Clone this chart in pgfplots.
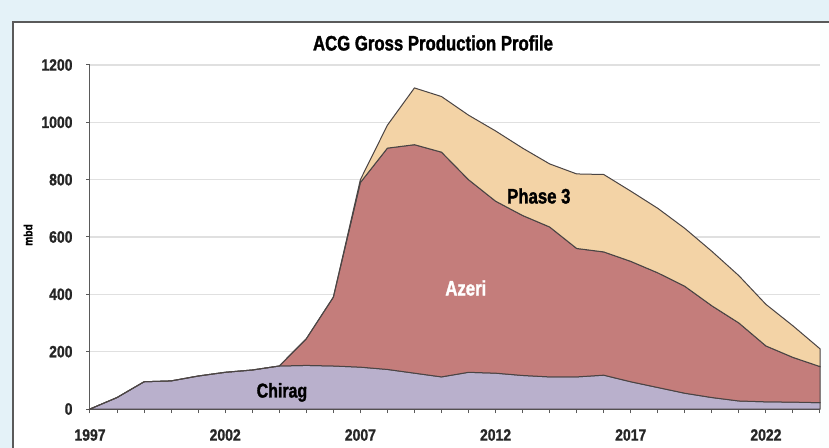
\documentclass[border=0pt]{standalone}
\usepackage{pgfplots}
\pgfplotsset{compat=1.18}
\usepackage{fontspec}
\setmainfont{Liberation Sans}
\newfontfamily\cond[FakeStretch=0.8,FakeBold=1.5]{Liberation Sans}
\newfontfamily\condt[FakeStretch=0.85,FakeBold=1]{Liberation Sans}
\definecolor{bgblue}{HTML}{E4F2F8}
\definecolor{chirag}{HTML}{B9B0CC}
\definecolor{azeri}{HTML}{C47D7B}
\definecolor{phase}{HTML}{F3D3A6}
\definecolor{outl}{HTML}{4A4444}
\definecolor{axgray}{HTML}{5A5A5A}
\begin{document}
\begin{tikzpicture}
\useasboundingbox (0,0) rectangle (829bp,448bp);
\fill[bgblue] (0,0) rectangle (829bp,448bp);
\fill[white] (13bp,0) rectangle (829bp,426bp);
\draw[axgray, line width=1.6bp] (13bp,0) -- (13bp,426bp) -- (829bp,426bp);
\fill[white!90!bgblue] (820bp,0) rectangle (829bp,425bp);
\node[font={\cond\bfseries\fontsize{21}{22}\selectfont}] at (433bp,405bp) {ACG Gross Production Profile};
\node[rotate=90, font={\condt\bfseries\fontsize{12}{13}\selectfont}] at (28bp,213bp) {mbd};
\begin{axis}[
  scale only axis, width=730bp, height=344bp,
  at={(90bp,39bp)}, anchor=south west,
  xmin=1997, xmax=2024, ymin=0, ymax=1200,
  axis x line*=bottom, axis y line*=left,
  axis line style={axgray, line width=1bp},
  xtick={1997,2002,...,2022}, minor xtick={1997,...,2024},
  ytick={0,200,...,1200},
  tick align=outside, major tick length=4bp, minor tick length=4bp,
  tick style={axgray, line width=1bp},
  ymajorgrids, grid style={black!12, line width=1.4bp},
  /pgf/number format/1000 sep={},
  /pgf/number format/assume math mode=true,
  ticklabel style={font={\condt\bfseries\fontsize{16.5}{17}\selectfont}, text=black!85},
  xticklabel style={anchor=center, yshift=-22bp},
  yticklabel style={anchor=east, xshift=-10bp},
  clip=false,
]
\addplot[stack plots=y, fill=chirag, draw=outl, line width=1bp] coordinates {
(1997,0) (1998,40) (1999,95) (2000,98) (2001,115) (2002,128) (2003,136) (2004,150)
(2005,152) (2006,150) (2007,146) (2008,138) (2009,125) (2010,112) (2011,128) (2012,125)
(2013,117) (2014,112) (2015,112) (2016,118) (2017,95) (2018,75) (2019,55) (2020,40)
(2021,28) (2022,25) (2023,24) (2024,22)} \closedcycle;
\addplot[stack plots=y, fill=azeri, draw=outl, line width=1bp] coordinates {
(1997,0) (1998,0) (1999,0) (2000,0) (2001,0) (2002,0) (2003,0) (2004,0)
(2005,93) (2006,240) (2007,644) (2008,772) (2009,797) (2010,784) (2011,672) (2012,600)
(2013,558) (2014,523) (2015,448) (2016,430) (2017,420) (2018,400) (2019,373) (2020,320)
(2021,272) (2022,195) (2023,156) (2024,126)} \closedcycle;
\addplot[stack plots=y, fill=phase, draw=outl, line width=1bp] coordinates {
(1997,0) (1998,0) (1999,0) (2000,0) (2001,0) (2002,0) (2003,0) (2004,0)
(2005,0) (2006,0) (2007,10) (2008,80) (2009,198) (2010,194) (2011,225) (2012,245)
(2013,235) (2014,220) (2015,260) (2016,270) (2017,245) (2018,225) (2019,202) (2020,190)
(2021,165) (2022,145) (2023,110) (2024,62)} \closedcycle;
\node[font={\cond\bfseries\fontsize{20}{21}\selectfont}] at (axis cs:2004.1,58) {Chirag};
\node[font={\cond\bfseries\fontsize{21}{22}\selectfont}, text=white] at (axis cs:2010.9,422) {Azeri};
\node[font={\cond\bfseries\fontsize{21}{22}\selectfont}] at (axis cs:2013.6,743) {Phase 3};
\end{axis}
\end{tikzpicture}
\end{document}
